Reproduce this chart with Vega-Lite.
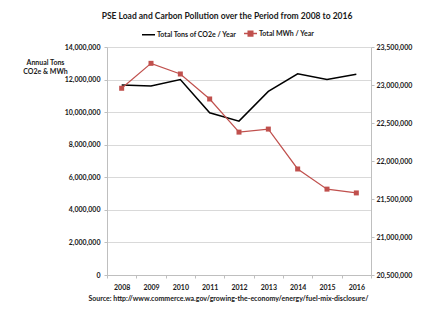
{
  "$schema": "https://vega.github.io/schema/vega-lite/v6.json",
  "autosize": "none",
  "padding": {"left": 107, "top": 47, "right": 55, "bottom": 34},
  "width": 264,
  "height": 228,
  "background": "white",
  "config": {
    "font": "Lato",
    "view": {"stroke": null},
    "axis": {"labelFont": "Lato", "labelFontWeight": "bold", "labelFontSize": 7, "labelColor": "#1a1a1a", "domainColor": "#bfbfbf", "tickColor": "#bfbfbf", "tickSize": 3, "titleFont": "Lato", "titleFontWeight": "bold", "titleFontSize": 7, "titleColor": "#1a1a1a"}
  },
  "title": {"text": "PSE Load and Carbon Pollution over the Period from 2008 to 2016", "fontSize": 8.5, "fontWeight": "bold", "font": "Lato", "color": "#1a1a1a", "anchor": "middle", "dx": -12, "offset": 6},
  "data": {"values": [
    {"year": "2008", "co2": 11660000, "mwh": 22957000},
    {"year": "2009", "co2": 11600000, "mwh": 23285000},
    {"year": "2010", "co2": 12000000, "mwh": 23145000},
    {"year": "2011", "co2": 9960000, "mwh": 22816000},
    {"year": "2012", "co2": 9450000, "mwh": 22380000},
    {"year": "2013", "co2": 11270000, "mwh": 22420000},
    {"year": "2014", "co2": 12350000, "mwh": 21895000},
    {"year": "2015", "co2": 12000000, "mwh": 21630000},
    {"year": "2016", "co2": 12330000, "mwh": 21580000}
  ]},
  "encoding": {
    "x": {"field": "year", "type": "ordinal", "bandPosition": 0.5,
      "scale": {"type": "band", "paddingInner": 0, "paddingOuter": 0},
      "axis": {"labelAngle": 0, "tickBand": "extent", "labelPadding": 5, "title": "Source: http://www.commerce.wa.gov/growing-the-economy/energy/fuel-mix-disclosure/", "titleX": 121, "titleY": 23, "titleAnchor": "middle", "titleAlign": "center", "titleBaseline": "middle"}}
  },
  "layer": [
    {
      "mark": {"type": "line", "strokeWidth": 1.5},
      "encoding": {
        "y": {"field": "co2", "type": "quantitative",
          "scale": {"domain": [0, 14000000], "nice": false, "zero": true},
          "axis": {"values": [0, 2000000, 4000000, 6000000, 8000000, 10000000, 12000000, 14000000], "format": ",d", "grid": true, "gridColor": "#d9d9d9", "labelPadding": 4,
            "title": ["Annual Tons", "CO2e  & MWh"], "titleAngle": 0, "titleX": -62, "titleY": 11, "titleAlign": "center", "titleBaseline": "top", "titleLineHeight": 9}},
        "stroke": {"datum": "Total Tons of CO2e / Year", "type": "nominal",
          "scale": {"domain": ["Total Tons of CO2e / Year", "Total MWh / Year"], "range": ["#000000", "#c0504d"]},
          "legend": {"title": null, "orient": "none", "legendX": 34, "legendY": -21, "direction": "horizontal", "labelFont": "Lato", "labelFontWeight": "bold", "labelFontSize": 7, "labelColor": "#1a1a1a", "symbolType": "stroke", "symbolSize": 169, "symbolStrokeWidth": 1.5, "columnPadding": 4, "labelOffset": 1,
            "encode": {"symbols": {"update": {
              "shape": {"signal": "datum.value === 'Total MWh / Year' ? 'M-1,0H1M-0.35,-0.35H0.35V0.35H-0.35Z' : 'stroke'"},
              "fill": {"signal": "datum.value === 'Total MWh / Year' ? '#c0504d' : 'transparent'"}
            }}}}}
      }
    },
    {
      "encoding": {
        "y": {"field": "mwh", "type": "quantitative",
          "scale": {"domain": [20500000, 23500000], "nice": false, "zero": false},
          "axis": {"orient": "right", "values": [20500000, 21000000, 21500000, 22000000, 22500000, 23000000, 23500000], "format": ",d", "grid": false, "labelPadding": 2, "title": null}}
      },
      "layer": [
        {"mark": {"type": "line", "strokeWidth": 1.2, "color": "#c0504d"},
         "encoding": {"stroke": {"datum": "Total MWh / Year", "type": "nominal"}}},
        {"mark": {"type": "point", "shape": "square", "filled": true, "size": 25, "opacity": 1, "color": "#c0504d"},
         "encoding": {"fill": {"datum": "Total MWh / Year", "type": "nominal", "legend": null, "scale": {"domain": ["Total Tons of CO2e / Year", "Total MWh / Year"], "range": ["#000000", "#c0504d"]}}}}
      ]
    }
  ],
  "resolve": {"scale": {"y": "independent"}}
}
